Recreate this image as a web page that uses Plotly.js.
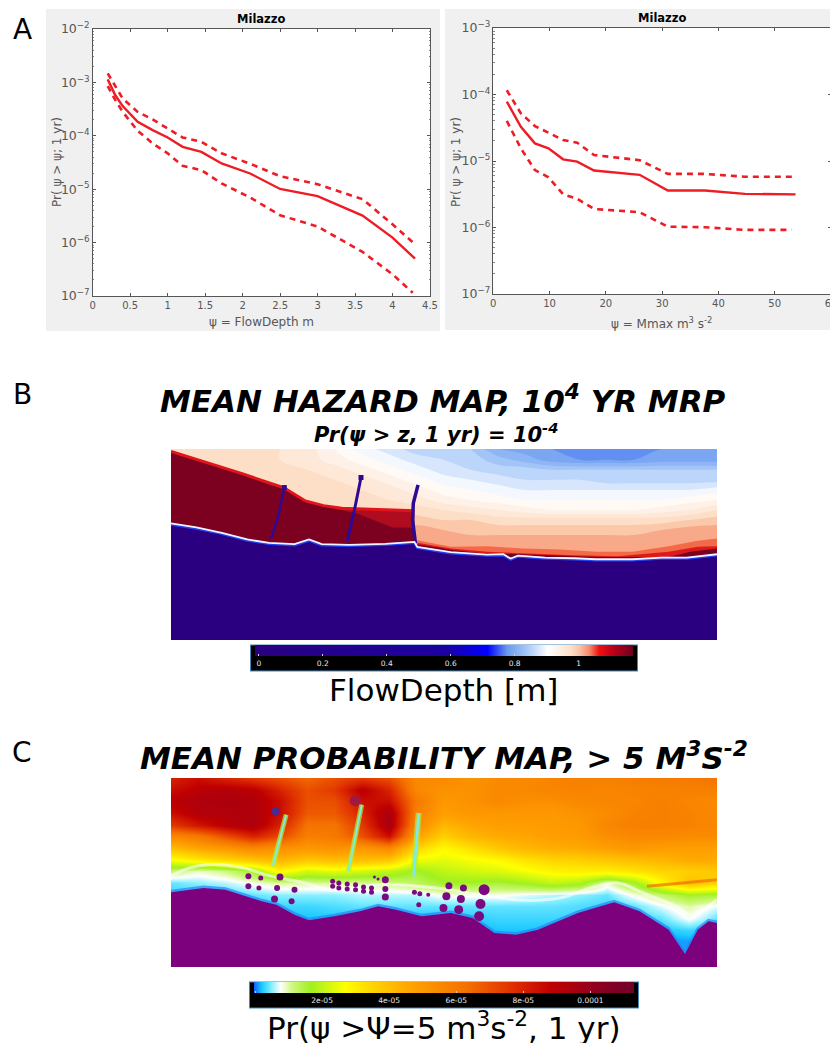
<!DOCTYPE html>
<html><head><meta charset="utf-8">
<script src="https://cdn.plot.ly/plotly-3.0.1.min.js"></script>
<style>html,body{margin:0;padding:0;background:#fff;overflow:hidden;width:830px;height:1043px}</style>
</head><body><div id="chart"></div>
<script>
// ---------- Panel A, flow depth curves
const depthX    = [0.2,0.3,0.4,0.6,0.8,1.0,1.2,1.45,1.72,2.1,2.5,3.0,3.6,4.0,4.3];
const depthMean = [1.14e-3,5.8e-4,3.6e-4,1.83e-4,1.28e-4,9.3e-5,6.2e-5,5.0e-5,3.03e-5,1.97e-5,1.01e-5,7.4e-6,3.2e-6,1.24e-6,5.0e-7];
const depthHigh = [1.48e-3,8.5e-4,5.0e-4,2.8e-4,2.02e-4,1.37e-4,9.3e-5,7.7e-5,4.7e-5,3.0e-5,1.75e-5,1.24e-5,6.5e-6,2.2e-6,9.3e-7];
const depthLowX = [0.2,0.3,0.4,0.6,0.8,1.0,1.2,1.45,1.72,2.1,2.5,3.0,3.6,4.0,4.27];
const depthLow  = [8.5e-4,4.7e-4,2.8e-4,1.24e-4,7.2e-5,4.7e-5,2.74e-5,2.27e-5,1.28e-5,7e-6,3.25e-6,2.0e-6,6.7e-7,2.55e-7,1.15e-7];
// ---------- Panel A, Mmax curves
const mmaxX    = [2.4,4.9,7.4,9.8,12.4,14.9,17.9,26,31,37.6,44.7,53.7];
const mmaxMean = [7.8e-5,3.27e-5,1.84e-5,1.55e-5,1.06e-5,9.8e-6,7.2e-6,6.2e-6,3.6e-6,3.6e-6,3.2e-6,3.15e-6];
const mmaxHigh = [1.16e-4,5.2e-5,3.35e-5,2.66e-5,2.07e-5,1.88e-5,1.23e-5,1.03e-5,6.4e-6,6.4e-6,5.8e-6,5.8e-6];
const mmaxLowX = [2.4,4.9,7.4,9.8,12.4,14.9,17.9,26,31,37.6,44.7,53];
const mmaxLow  = [4.0e-5,1.55e-5,7.3e-6,5.7e-6,3.16e-6,2.7e-6,1.9e-6,1.7e-6,1.03e-6,1.01e-6,9.2e-7,9.2e-7];

// ---------- Panel B, sea field (m); map units run 30..1533 across and 28..598 down
const bCols = [30,105,180,255,330,405,480,555,630,705,780,855,930,1005,1080,1155,1230,1305,1380,1455,1533];
const bRows = [28,60,90,120,150,180,210,240,270,300,330,360];
const bField = [
 [.98,.98,.98,.97,.96,.95,.92,.89,.87,.85,.85,.84,.80,.79,.78,.78,.78,.78,.78,.78,.78],
 [.98,.98,.98,.97,.96,.95,.93,.91,.89,.87,.86,.85,.83,.81,.79,.78,.78,.78,.79,.79,.79],
 [.98,.98,.98,.97,.97,.96,.95,.93,.91,.89,.87,.86,.85,.85,.84,.84,.84,.84,.84,.84,.84],
 [.98,.98,.98,.97,.97,.97,.96,.95,.93,.91,.89,.88,.87,.86,.86,.86,.85,.85,.85,.85,.85],
 [.98,.98,.98,.98,.97,.97,.97,.96,.95,.93,.91,.90,.89,.88,.88,.88,.88,.88,.88,.88,.89],
 [.99,.99,.99,.99,.98,.98,.97,.97,.96,.95,.93,.92,.91,.90,.90,.90,.90,.90,.90,.91,.92],
 [.99,.99,.99,.99,.99,.99,.98,.98,.98,.97,.96,.95,.94,.93,.92,.92,.92,.92,.93,.94,.96],
 [1,1,1,1,1,1,1,1,1,.99,.98,.98,.97,.97,.97,.97,.97,.97,.97,.98,.99],
 [1,1,1,1,1,1,1,1,1,1.01,1,.99,.99,.99,.99,.99,.99,.99,1,1.01,1.01],
 [1,1,1,1,1,1,1,1,1,1.02,1.02,1.01,1.01,1.01,1.01,1.01,1.01,1.01,1.01,1.02,1.02],
 [1,1,1,1,1,1,1,1,1,1.02,1.02,1.02,1.02,1.02,1.02,1.02,1.02,1.02,1.02,1.02,1.02],
 [1,1,1,1,1,1,1,1,1,1.02,1.02,1.02,1.02,1.02,1.02,1.02,1.02,1.02,1.02,1.02,1.02]];
const bCoastX = [30,100,170,240,300,370,410,445,520,620,700,708,800,900,945,965,985,1060,1140,1200,1300,1380,1450,1533];
const bCoastY = [250,262,278,298,308,312,298,312,314,311,305,320,336,343,342,355,346,352,354,357,357,352,352,342];
const bDeepX = [30,80,130,180,230,280,340,400,450,500,560,640,700];
const bDeepY = [35,52,68,85,103,122,143,183,197,205,207,208,212];
const bLobeX = [480,560,640,695,695,640,590,540];
const bLobeY = [206,208,209,214,262,262,242,220];
const bSalmonX = [708,800,900,1000,1100,1200,1300,1400,1533];
const bSalmonY = [292,312,310,305,312,315,315,305,290];
const bOrangeX = [708,800,900,1000,1100,1200,1300,1400,1480,1533];
const bOrangeY = [300,320,318,325,328,335,335,318,302,295];
const bRedX = [708,800,900,1000,1060,1140,1260,1400,1480,1533];
const bRedY = [308,325,335,340,343,345,348,335,320,318];
const bDarkX = [708,760,810,880,1080,1200,1400,1460,1533];
const bDarkY = [312,322,330,338,345,350,350,335,325];
const bPier1X = [342,325,305], bPier1Y = [143,230,295];
const bPier2X = [553,535,515], bPier2Y = [113,210,303];
const bPier3X = [710,697,695,703], bPier3Y = [135,190,240,310];

// ---------- Panel C, probability field (units of 1e-5); map units 30..1533 across, 25..592 down
const cCols = [30,105,180,255,330,405,480,555,630,705,780,855,930,1005,1080,1155,1230,1305,1380,1455,1533];
const cRows = [25,60,95,130,165,200,235,270,305,340,375,410,445,480,515,550,592];
const cField = [
 [8,8.5,8,7.5,7,6.5,7,7.5,7,5.5,5.5,5.2,5.5,5.5,5.7,5.8,5.8,5.9,6,6,6.2],
 [8.5,9,9.2,9,8,7,7.5,9,8,5.5,5.2,5.2,5.5,5.5,5.6,5.7,5.6,5.7,5.7,5.8,5.8],
 [9,9.3,9.4,9.3,8.5,7,7,8.5,8.5,6,5,5.2,5.5,5.3,5.3,5.5,5.6,5.6,5.8,5.6,5.5],
 [8.5,9.2,9.2,9.3,8.5,6.8,6.8,8,9.5,5.8,4.8,5,5,5,5,5.2,5.4,5.7,5.8,5.7,5.5],
 [7.5,8.3,9,9.4,8,6.2,6.2,7.5,9.5,5.5,4.2,4.6,4.8,4.8,4.9,5,5.6,5.8,5.8,5.7,5.6],
 [5.5,6,7,8,7.2,5.8,6,7,8.5,4.8,3.6,4.2,4.5,4.6,4.8,4.9,5.3,5.5,5.5,5.4,5.4],
 [4,4.6,5,5.5,5.2,5,5.2,5,5.5,3.5,2.8,3.3,3.8,4.2,4.4,4.5,4.8,5,4.8,4.8,4.8],
 [2.6,3,3.4,3.8,4.2,3.8,4,4,3.8,2.5,2.4,2.6,2.8,3.2,3.5,3.6,3.8,4,4.2,4.5,4.5],
 [1.2,.9,1.1,1.6,2.8,2.2,2.4,2.2,2,1.6,2,2.2,2.3,2.6,2.9,3,3,3.2,3.5,3.6,3.8],
 [.4,.5,.6,.8,1,1,1,1,1.1,1.3,1.6,1.6,1.5,1.7,2,1.8,.9,1.6,2.8,4,3.5],
 [.3,.3,.3,.4,.5,.5,.5,.6,.6,.6,.8,.8,.8,.7,.6,.5,.4,.8,1.2,1.6,1.5],
 [.2,.2,.2,.2,.3,.3,.35,.4,.4,.4,.4,.4,.4,.4,.4,.35,.3,.4,.7,1,.7],
 [.1,.1,.1,.15,.2,.2,.2,.2,.2,.2,.2,.25,.3,.3,.3,.3,.2,.3,.4,.8,.4],
 [.1,.1,.1,.1,.1,.1,.1,.1,.1,.1,.1,.15,.2,.2,.2,.2,.2,.2,.2,.3,.2],
 [.1,.1,.1,.1,.1,.1,.1,.1,.1,.1,.1,.1,.1,.1,.1,.1,.1,.1,.1,.1,.1],
 [.1,.1,.1,.1,.1,.1,.1,.1,.1,.1,.1,.1,.1,.1,.1,.1,.1,.1,.1,.1,.1],
 [.1,.1,.1,.1,.1,.1,.1,.1,.1,.1,.1,.1,.1,.1,.1,.1,.1,.1,.1,.1,.1]];
const cCoastX = [30,120,180,230,280,320,370,410,480,550,600,650,720,800,860,920,980,1040,1150,1250,1320,1400,1445,1480,1510,1533];
const cCoastY = [368,355,360,378,395,405,435,452,440,425,410,420,440,430,445,490,495,480,430,398,425,480,553,480,455,460];
const cWhiteX = [30,80,130,230,300,400,470,600,760,880,1000,1100,1200,1260,1330,1420,1460,1533];
const cWhiteY = [318,295,285,295,318,340,362,345,355,375,392,385,350,340,370,410,435,390];
const cStreakX = [1340,1400,1460,1533], cStreakY = [350,345,338,330];
const cPier1X = [347,310], cPier1Y = [135,290];
const cPier2X = [555,518], cPier2Y = [105,305];
const cPier3X = [712,705,698], cPier3Y = [130,220,320];
const cVoidX = [243,243,277,272,330,322,315,370,362,475,475,492,492,515,515,538,538,560,560,582,582,620,620,620,600,590,700,715,738,712,795,788,780,835,828,822,892,882,878,318,537];
const cVoidY = [320,350,325,355,322,355,388,360,395,335,350,340,355,343,358,345,360,352,365,355,368,330,358,382,328,322,368,372,375,405,348,380,415,355,388,420,360,403,440,125,93];
const cVoidSize = [6,6,5,5,7,6,7,6,6,5,5,5,5,5,5,5,5,5,5,5,5,7,6,7,3,3,5,5,4,5,7,8,8,7,8,9,11,10,10,8,11];
const cVoidTone = cVoidX.map((_, i) => i === 39 ? '#4a2a90' : i === 40 ? '#a01a40' : '#7a0a80');

// ---------- Tick labels and text
const xTicksDepth = [0,0.5,1,1.5,2,2.5,3,3.5,4,4.5];
const xTicksMmax  = [0,10,20,30,40,50,60];
const barTicksB = [0,0.2,0.4,0.6,0.8,1];
const barTicksC = [0,2,4,6,8,10];
const barLabelsC = ['0','2e-05','4e-05','6e-05','8e-05','0.0001'];

const W = 860, H = 1043;
const px = v => v / W, py = v => 1 - v / H;
const RED = '#ee1c25', GREY = '#565656';
const sans = 'DejaVu Sans, sans-serif';

const scaleB = [[0,'#2b0080'],[.5,'#1c00a0'],[.615,'#0000ff'],[.668,'#6a9bf0'],[.72,'#a8c8f8'],[.775,'#ffffff'],[.835,'#fde0c8'],[.86,'#fbc0a0'],[.885,'#f58a6a'],[.91,'#ee1111'],[.945,'#c00018'],[1,'#6e0020']];
const scaleC = [[0,'#1560ff'],[.02,'#18c8ff'],[.045,'#80eeff'],[.07,'#ffffff'],[.10,'#d0f880'],[.15,'#a0f020'],[.24,'#ffff00'],[.32,'#ffd000'],[.42,'#ffa000'],[.56,'#f47000'],[.68,'#e03000'],[.78,'#c00000'],[.9,'#900020'],[1,'#700028']];

function curve(x, y, dash, xa, ya) {
  return {type:'scatter', mode:'lines', x, y, xaxis:xa, yaxis:ya, showlegend:false, hoverinfo:'skip',
    line:{color:RED, width: dash ? 2.6 : 2.4, dash: dash ? '6px,5px' : 'solid'}};
}
function area(x, y, color, xa, ya, line) {
  return {type:'scatter', mode:'lines', x, y, xaxis:xa, yaxis:ya, fill:'toself', fillcolor:color,
    showlegend:false, hoverinfo:'skip', line:{color: line || color, width: line ? 2 : 0}};
}
function stroke(x, y, color, width, xa, ya, smooth) {
  return {type:'scatter', mode:'lines', x, y, xaxis:xa, yaxis:ya, showlegend:false, hoverinfo:'skip',
    line:{color, width, shape: smooth ? 'spline' : 'linear'}};
}
function bandOver(topX, topY) {
  const keep = bCoastX.map((v, i) => i).filter(i => bCoastX[i] >= topX[0]).reverse();
  return [topX.concat(keep.map(i => bCoastX[i])), topY.concat(keep.map(i => bCoastY[i]))];
}
function deepOver() {
  const xs = bCoastX.slice(0, 11).reverse(), ys = bCoastY.slice(0, 11).reverse();
  return [bDeepX.concat(xs), bDeepY.concat(ys)];
}
const [deepPx, deepPy] = deepOver();
const [salX, salY] = bandOver(bSalmonX, bSalmonY);
const [oraX, oraY] = bandOver(bOrangeX, bOrangeY);
const [redX, redY] = bandOver(bRedX, bRedY);
const [darX, darY] = bandOver(bDarkX, bDarkY);
const bLandX = bCoastX.concat([1533, 30]), bLandY = bCoastY.concat([598, 598]);
const cLandX = cCoastX.concat([1533, 30]), cLandY = cCoastY.concat([592, 592]);

function barConfig(len, cx, top, tickvals, ticktext) {
  return {orientation:'h', lenmode:'pixels', len, thickness:11, x:cx, xanchor:'center', xref:'paper',
    y:py(top), yanchor:'top', yref:'paper', bgcolor:'#000000', outlinewidth:0, borderwidth:1,
    bordercolor:'#4a86b8', xpad:4, ypad:0, ticks:'inside', ticklen:2, tickcolor:'#cccccc',
    tickvals, ticktext, tickfont:{family:sans, size:7.5, color:'#e8e8e8'}};
}

const traces = [
  curve(depthX, depthMean, false, 'x', 'y'),
  curve(depthX, depthHigh, true, 'x', 'y'),
  curve(depthLowX, depthLow, true, 'x', 'y'),
  curve(mmaxX, mmaxMean, false, 'x2', 'y2'),
  curve(mmaxX, mmaxHigh, true, 'x2', 'y2'),
  curve(mmaxLowX, mmaxLow, true, 'x2', 'y2'),
  {type:'heatmap', x:bCols, y:bRows, z:bField, xaxis:'x3', yaxis:'y3', zauto:false, zmin:-0.012, zmax:1.17, zsmooth:'best',
    colorscale:scaleB, hoverinfo:'skip', colorbar:barConfig(386, 444/W, 645, barTicksB, barTicksB.map(String))},
  {type:'contour', x:bCols, y:bRows, z:bField, xaxis:'x3', yaxis:'y3', zauto:false, zmin:0, zmax:1.17, showscale:false,
    colorscale:scaleB, autocontour:false, contours:{start:0, end:1.17, size:.02, coloring:'fill', showlines:false},
    line:{width:0}, hoverinfo:'skip'},
  area(salX, salY, '#f9a987', 'x3', 'y3'),
  area(oraX, oraY, '#f26a48', 'x3', 'y3'),
  area(redX, redY, '#dd1a1a', 'x3', 'y3'),
  area(darX, darY, '#780020', 'x3', 'y3'),
  area(deepPx, deepPy, '#7c0020', 'x3', 'y3'),
  area(bLobeX, bLobeY, '#b00c20', 'x3', 'y3'),
  stroke(bDeepX, bDeepY, '#e0141a', 3, 'x3', 'y3'),
  stroke(bPier1X, bPier1Y, '#2d0a96', 2.5, 'x3', 'y3'),
  stroke(bPier2X, bPier2Y, '#2d0a96', 3, 'x3', 'y3'),
  stroke(bPier3X, bPier3Y, '#2d0a96', 3.5, 'x3', 'y3'),
  {type:'scatter', mode:'markers', x:[bPier1X[0],bPier2X[0]], y:[bPier1Y[0],bPier2Y[0]], xaxis:'x3', yaxis:'y3',
    showlegend:false, hoverinfo:'skip', marker:{symbol:'square', size:5, color:'#2d0a96'}},
  area(bLandX, bLandY, '#2a0080', 'x3', 'y3'),
  stroke(bCoastX, bCoastY.map(v => v + 3), '#2440f0', 2.5, 'x3', 'y3'),
  stroke(bCoastX, bCoastY, '#f4f4ff', 1.8, 'x3', 'y3'),
  {type:'heatmap', x:cCols, y:cRows, z:cField, xaxis:'x4', yaxis:'y4', zauto:false, zmin:-0.03, zmax:11.3, zsmooth:'best',
    colorscale:scaleC, hoverinfo:'skip', colorbar:barConfig(388, 444/W, 982, barTicksC, barLabelsC)},
  stroke(cStreakX, cStreakY, 'rgba(240,110,0,0.7)', 3, 'x4', 'y4'),
  stroke(cWhiteX, cWhiteY, 'rgba(255,255,255,0.6)', 3, 'x4', 'y4', true),
  stroke(cPier1X, cPier1Y, 'rgba(170,240,60,0.7)', 5, 'x4', 'y4'),
  stroke(cPier1X, cPier1Y, '#7fefd8', 2, 'x4', 'y4'),
  stroke(cPier2X, cPier2Y, 'rgba(170,240,60,0.7)', 5, 'x4', 'y4'),
  stroke(cPier2X, cPier2Y, '#7fefd8', 2, 'x4', 'y4'),
  stroke(cPier3X, cPier3Y, 'rgba(170,240,60,0.7)', 6, 'x4', 'y4'),
  stroke(cPier3X, cPier3Y, '#80e8f0', 2.5, 'x4', 'y4'),
  stroke(cCoastX, cCoastY.map(v => v - 3), 'rgba(40,130,250,0.7)', 3, 'x4', 'y4'),
  area(cLandX, cLandY, '#7d007d', 'x4', 'y4'),
  {type:'scatter', mode:'markers', x:cVoidX, y:cVoidY, xaxis:'x4', yaxis:'y4', showlegend:false, hoverinfo:'skip',
    marker:{size:cVoidSize, color:cVoidTone, opacity:1, line:{width:0}}}
];

function logAxis(domain, anchor, range) {
  return {domain, anchor, type:'log', range, dtick:1, exponentformat:'power', showexponent:'all', showgrid:false, zeroline:false,
    ticks:'inside', ticklen:3, tickcolor:GREY, linecolor:GREY, linewidth:1, mirror:'ticks', showline:true,
    minor:{ticks:'inside', ticklen:1.5, tickcolor:'#888888', showgrid:false},
    tickfont:{family:sans, size:10, color:GREY}};
}
function linAxis(domain, anchor, range, vals) {
  return {domain, anchor, range, tickvals:vals, ticktext:vals.map(String), showgrid:false, zeroline:false,
    ticks:'inside', ticklen:3, tickcolor:GREY, linecolor:GREY, linewidth:1, mirror:'ticks', showline:true,
    tickfont:{family:sans, size:10, color:GREY}};
}
function mapAxis(domain, anchor, range) {
  return {domain, anchor, range, visible:false, fixedrange:true};
}
function note(text, x, y, size, extra) {
  return Object.assign({text, x:x/W, y:py(y), xref:'paper', yref:'paper', showarrow:false, xanchor:'center', yanchor:'middle',
    font:{family:sans, size, color:'#000000'}}, extra || {});
}
const greyFont = {family:sans, size:12, color:GREY};
function greyRect(l, r, t, b, fillcolor) {
  return {type:'rect', layer:'below', xref:'paper', yref:'paper', x0:px(l), x1:px(r), y0:py(b), y1:py(t), fillcolor, line:{width:0}};
}

const layout = {
  width:W, height:H, margin:{l:0,r:0,t:0,b:0}, paper_bgcolor:'#ffffff', plot_bgcolor:'#ffffff', showlegend:false,
  xaxis:linAxis([px(92.7),px(430)], 'y', [0,4.5], xTicksDepth),
  yaxis:logAxis([py(296),py(29)], 'x', [-7,-2]),
  xaxis2:linAxis([px(493.3),px(831)], 'y2', [0,60], xTicksMmax),
  yaxis2:logAxis([py(294),py(28)], 'x2', [-7,-3]),
  xaxis3:mapAxis([px(171),px(717)], 'y3', [30,1533]),
  yaxis3:mapAxis([py(640),py(449)], 'x3', [598,28]),
  xaxis4:mapAxis([px(171),px(717)], 'y4', [30,1533]),
  yaxis4:mapAxis([py(967),py(778)], 'x4', [592,25]),
  shapes:[
    greyRect(46, 440, 9, 331, '#f0f0f0'),
    greyRect(445, 860, 9, 330, '#f0f0f0'),
    greyRect(92.7, 430, 29, 296, '#ffffff'),
    greyRect(493.3, 831, 28, 294, '#ffffff')
  ],
  annotations:[
    note('A', 22, 30, 28),
    note('B', 22, 395, 28),
    note('C', 22, 752, 28),
    note('<b>Milazzo</b>', 261, 19, 11.5),
    note('<b>Milazzo</b>', 662, 18, 11.5),
    note('Pr( \u03c8 > \u03c8; 1 yr)', 57, 162, 12, {textangle:-90, font:greyFont}),
    note('Pr( \u03c8 > \u03c8; 1 yr)', 456, 162, 12, {textangle:-90, font:greyFont}),
    note('\u03c8 = FlowDepth m', 261, 322, 12, {font:greyFont}),
    note('\u03c8 = Mmax m<sup>3</sup> s<sup>-2</sup>', 661, 323, 12, {font:greyFont}),
    note('<b><i>MEAN HAZARD MAP, 10<sup>4</sup> YR MRP</i></b>', 443, 399, 31),
    note('<b><i>Pr(\u03c8 > z, 1 yr) = 10<sup>-4</sup></i></b>', 436, 433, 21),
    note('FlowDepth [m]', 443, 690, 31),
    note('<b><i>MEAN PROBABILITY MAP, > 5 M<sup>3</sup>S<sup>-2</sup></i></b>', 444, 756, 31),
    note('Pr(\u03c8 >\u03a8=5 m<sup>3</sup>s<sup>-2</sup>, 1 yr)', 444, 1026, 31)
  ]
};
Plotly.newPlot('chart', traces, layout, {displayModeBar:false, staticPlot:true});
</script></body></html>
